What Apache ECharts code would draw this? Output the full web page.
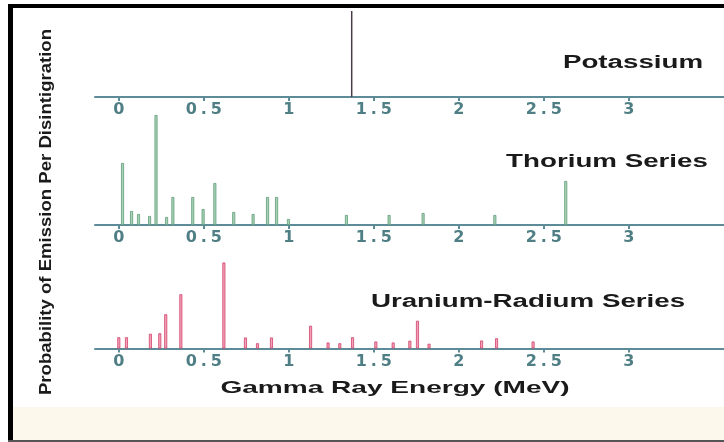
<!DOCTYPE html>
<html>
<head>
<meta charset="utf-8">
<title>Gamma Ray Spectra</title>
<script src="https://cdn.jsdelivr.net/npm/echarts@6/dist/echarts.min.js"></script>
<style>
  html, body { margin: 0; padding: 0; background: #ffffff; }
  #chart { width: 724px; height: 442px; }
</style>
</head>
<body>
<div id="chart"></div>
<script>
// Gamma emission lines (energy in MeV, relative probability per disintegration)
const potassiumEnergy = [1.37];
const potassiumIntensity = [34.4];

const thoriumEnergy = [0.022, 0.075, 0.116, 0.181, 0.219, 0.281, 0.318, 0.435, 0.496, 0.565,
                       0.676, 0.79, 0.875, 0.928, 0.998, 1.339, 1.59, 1.79, 2.212, 2.629];
const thoriumIntensity = [24.8, 5.6, 4.4, 3.6, 44, 3.2, 11.2, 11.2, 6.4, 16.8,
                          5.2, 4.4, 11.2, 11.2, 2.4, 4, 4, 4.8, 4, 17.6];

const uraniumEnergy = [0.0, 0.045, 0.186, 0.241, 0.276, 0.365, 0.618, 0.745, 0.816, 0.898, 1.128,
                       1.231, 1.3, 1.375, 1.512, 1.614, 1.712, 1.757, 1.825, 2.134, 2.222, 2.437];
const uraniumIntensity = [4.5, 4.5, 5.9, 6.1, 13.7, 21.7, 34.4, 4.4, 2.1, 4.4, 9.1,
                          2.4, 2.1, 4.5, 2.8, 2.4, 3.1, 11.1, 1.9, 3.2, 4.1, 2.8];

const tickValues = [0, 0.5, 1, 1.5, 2, 2.5, 3];
const tickLabels = ['0', '0.5', '1', '1.5', '2', '2.5', '3'];

const panelNames = ['Potassium', 'Thorium Series', 'Uranium-Radium Series'];
const xAxisTitle = 'Gamma Ray Energy (MeV)';
const yAxisTitle = 'Probability of Emission Per Disintigration';

const chart = echarts.init(document.getElementById('chart'), null, { renderer: 'canvas' });

const axisColor = '#5d8c98';
const labelColor = '#4f7f84';

function pairs(xs, ys) {
  return xs.map((x, i) => [x, ys[i]]);
}

// spaced-out tick labels: each character is its own rich token with side padding
function tickFormatter(value) {
  const idx = tickValues.findIndex(v => Math.abs(v - value) < 1e-9);
  if (idx < 0) return '';
  return tickLabels[idx].split('').map(c => '{c|' + c + '}').join('');
}

function makeXAxis(gridIndex) {
  return {
    type: 'value',
    gridIndex: gridIndex,
    min: -0.14,
    max: 3.56,
    splitLine: { show: false },
    axisLine: { show: true, lineStyle: { color: axisColor, width: 2 } },
    axisTick: { show: true, customValues: tickValues, length: 4, lineStyle: { color: axisColor, width: 2 } },
    axisLabel: {
      show: true,
      customValues: tickValues,
      margin: 5,
      formatter: tickFormatter,
      rich: {
        c: {
          fontFamily: 'DejaVu Sans',
          fontWeight: 'bold',
          fontSize: 16,
          color: labelColor,
          padding: [0, 2]
        }
      }
    }
  };
}

function makeYAxis(gridIndex, max) {
  return { type: 'value', gridIndex: gridIndex, min: 0, max: max, show: false };
}

function barSeries(name, idx, data, fill, border, width) {
  return {
    name: name,
    type: 'bar',
    xAxisIndex: idx,
    yAxisIndex: idx,
    data: data,
    barWidth: width,
    silent: true,
    itemStyle: { color: fill, borderColor: border, borderWidth: border ? 0.8 : 0 }
  };
}

const gridBase = { left: 95, right: 0, containLabel: false, outerBoundsMode: 'none' };

const option = {
  backgroundColor: '#ffffff',
  animation: false,
  grid: [
    Object.assign({ top: 7, height: 90 }, gridBase),
    Object.assign({ top: 115, height: 110 }, gridBase),
    Object.assign({ top: 258.5, height: 90 }, gridBase)
  ],
  xAxis: [makeXAxis(0), makeXAxis(1), makeXAxis(2)],
  yAxis: [makeYAxis(0, 36), makeYAxis(1, 44), makeYAxis(2, 36)],
  series: [
    barSeries(panelNames[0], 0, pairs(potassiumEnergy, potassiumIntensity), '#4b3a4a', null, 1.5),
    barSeries(panelNames[1], 1, pairs(thoriumEnergy, thoriumIntensity), '#a9d3b6', '#5f9c78', 3),
    barSeries(panelNames[2], 2, pairs(uraniumEnergy, uraniumIntensity), '#f2a2b6', '#d2426c', 3)
  ],
  graphic: [
    // cream strip at the bottom
    { type: 'rect', z: 50, shape: { x: 13, y: 407, width: 711, height: 33 }, style: { fill: '#fdf8ec' } },
    // frame
    { type: 'rect', z: 60, shape: { x: 8, y: 4, width: 716, height: 4 }, style: { fill: '#000000' } },
    { type: 'rect', z: 60, shape: { x: 8, y: 4, width: 5, height: 437 }, style: { fill: '#000000' } },
    { type: 'rect', z: 60, shape: { x: 8, y: 440, width: 716, height: 2 }, style: { fill: '#555555' } },
    // panel titles
    {
      type: 'text', z: 70, x: 633, y: 63, scaleX: 1.54,
      style: { text: panelNames[0], font: 'bold 18px "Liberation Sans"', fill: '#1a1a1a', align: 'center', verticalAlign: 'middle' }
    },
    {
      type: 'text', z: 70, x: 607, y: 162, scaleX: 1.54,
      style: { text: panelNames[1], font: 'bold 18px "Liberation Sans"', fill: '#1a1a1a', align: 'center', verticalAlign: 'middle' }
    },
    {
      type: 'text', z: 70, x: 528, y: 302, scaleX: 1.54,
      style: { text: panelNames[2], font: 'bold 18px "Liberation Sans"', fill: '#1a1a1a', align: 'center', verticalAlign: 'middle' }
    },
    // axis titles
    {
      type: 'text', z: 70, x: 395, y: 388, scaleX: 1.65,
      style: { text: xAxisTitle, font: 'bold 17px "Liberation Sans"', fill: '#1a1a1a', align: 'center', verticalAlign: 'middle' }
    },
    {
      type: 'text', z: 70, x: 47, y: 212, rotation: Math.PI / 2, scaleX: 1.16,
      style: { text: yAxisTitle, font: 'bold 16px "Liberation Sans"', fill: '#1a1a1a', align: 'center', verticalAlign: 'middle' }
    }
  ]
};

chart.setOption(option);
</script>
</body>
</html>
